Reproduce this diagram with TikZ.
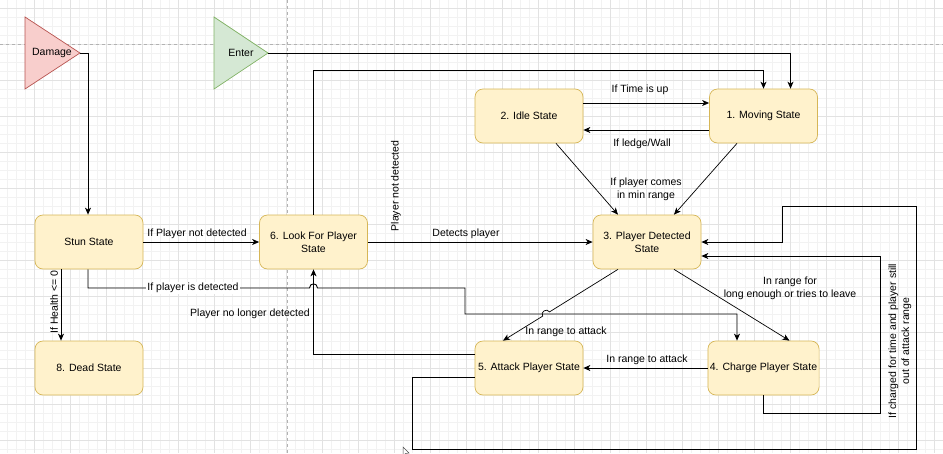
\documentclass[tikz,border=0pt]{standalone}
\usepackage{fontspec}
\setmainfont{Liberation Sans}
\usetikzlibrary{arrows.meta,calc}
\definecolor{boxfill}{HTML}{FFF2CC}
\definecolor{boxdraw}{HTML}{D6B656}
\definecolor{redfill}{HTML}{F8CECC}
\definecolor{reddraw}{HTML}{B85450}
\definecolor{greenfill}{HTML}{D5E8D4}
\definecolor{greendraw}{HTML}{82B366}
\definecolor{gridminor}{HTML}{F2F2F2}
\definecolor{gridmajor}{HTML}{E2E2E2}
\tikzset{
  statebox/.style={draw=boxdraw, fill=boxfill, rounded corners=8pt, minimum width=108pt, minimum height=54pt, align=center, inner sep=2pt, line width=0.7pt},
  lbl/.style={inner sep=1pt, align=center},
  conn/.style={line width=0.9pt, -{Stealth[length=7pt,width=6pt,inset=2pt]}},
  plain/.style={line width=0.9pt}
}
\begin{document}
\begin{tikzpicture}[x=1pt,y=-1pt,font=\fontsize{10.5}{13}\selectfont]
\useasboundingbox (0,0) rectangle (943,453);
\fill[white] (0,0) rectangle (943,453);
% grid
\foreach \gx in {7,16,...,943} \draw[gridminor,line width=0.5pt] (\gx,0) -- (\gx,453);
\foreach \gy in {8,17,...,453} \draw[gridminor,line width=0.5pt] (0,\gy) -- (943,\gy);
\foreach \gx in {34,70,...,943} \draw[gridmajor,line width=0.6pt] (\gx,0) -- (\gx,453);
\foreach \gy in {8,44,...,453} \draw[gridmajor,line width=0.6pt] (0,\gy) -- (943,\gy);
\draw[black!30,dashed,line width=0.6pt] (0,44) -- (943,44);
\draw[black!30,dashed,line width=0.6pt] (287,0) -- (287,453);

% start triangles
\draw[draw=reddraw,fill=redfill,line width=0.7pt] (25,17) -- (80,53) -- (25,89) -- cycle;
\node[lbl] (dmg) at (52,53) {Damage};
\coordinate (dmgtip) at (80,53);
\draw[draw=greendraw,fill=greenfill,line width=0.7pt] (214,17) -- (268,53) -- (214,89) -- cycle;
\node[lbl] (ent) at (241,53) {Enter};
\coordinate (enttip) at (268,53);

% states
\node[statebox] (stun) at (89,242) {Stun State};
\node[statebox] (dead) at (89,368) {8. Dead State};
\node[statebox] (look) at (313.5,242) {6. Look For Player\\State};
\node[statebox] (idle) at (529,116) {2. Idle State};
\node[statebox] (move) at (763.5,116) {1. Moving State};
\node[statebox] (pd) at (647,242) {3. Player Detected\\State};
\node[statebox] (atk) at (529,368) {5. Attack Player State};
\node[statebox] (chg) at (763.5,368) {4. Charge Player State};

% connectors
\draw[conn] (dmgtip) -| ([xshift=-1pt]stun.north);
\draw[conn] (enttip) -| ([xshift=27pt]move.north);
\draw[conn] (look.north) |- ([yshift=18pt]move.north) -- (move.north);
\draw[conn] ([yshift=13pt]idle.east) -- ([yshift=13pt]move.west);
\draw[conn] ([yshift=-14pt]move.west) -- ([yshift=-14pt]idle.east);
\draw[conn,line width=0.7pt] ([xshift=27pt]idle.south) -- ([xshift=-29pt]pd.north);
\draw[conn,line width=0.7pt] ([xshift=-26.5pt]move.south) -- ([xshift=27pt]pd.north);
\draw[conn] (stun.east) -- (look.west);
\draw[conn] (look.east) -- (pd.west);
\draw[conn] ([xshift=-1pt]stun.south) |- (309.5,288) .. controls (309.5,282.5) and (317.5,282.5) .. (317.5,288) -- (465,288) |- (737,314) -- ([xshift=-26.5pt]chg.north);
\draw[conn] ([yshift=14pt]atk.west) -| (look.south);
\draw[conn] ([xshift=-28pt]stun.south) -- ([xshift=-28pt]dead.north);
\draw[conn,line width=0.7pt] ([xshift=-29pt]pd.south) -- (549.5,311.9) .. controls (546.8,307.7) and (540,311.9) .. (542.7,316.1) -- ([xshift=-26pt]atk.north);
\draw[conn,line width=0.7pt] ([xshift=27pt]pd.south) -- ([xshift=26pt]chg.north);
\draw[conn] (chg.west) -- (atk.east);
\draw[conn] (chg.south) |- (880,413) |- ([yshift=-14pt]pd.east);
\draw[conn] ([yshift=-9pt]atk.west) -| (412,449) -| (916,206) -| ([xshift=81pt]pd.east) -- (pd.east);

% labels
\node[lbl,rotate=90] (l1) at (396,186) {Player not detected};
\node[lbl] (l2) at (640,90) {If Time is up};
\node[lbl] (l3) at (642,144) {If ledge/Wall};
\node[lbl] (l4) at (646,189) {If player comes\\in min range};
\node[lbl] (l5) at (197,234) {If Player not detected};
\node[lbl] (l6) at (466,234) {Detects player};
\node[lbl,fill=white] (l7) at (193,288) {If player is detected};
\node[lbl] (l8) at (250,314) {Player no longer detected};
\node[lbl,rotate=90] (l9) at (54,302) {If Health <= 0};
\node[lbl] (l10) at (566,332) {In range to attack};
\node[lbl] (l11) at (790,288) {In range for\\long enough or tries to leave};
\node[lbl] (l12) at (647,360) {In range to attack};
\node[lbl,rotate=90] (l13) at (900,341) {If charged for time and player still\\out of attack range};

% mouse cursor
\draw[black!70,fill=white,line width=0.5pt] (403,447) -- (403,456) -- (405.5,453.5) -- (409,453) -- cycle;
\end{tikzpicture}
\end{document}
